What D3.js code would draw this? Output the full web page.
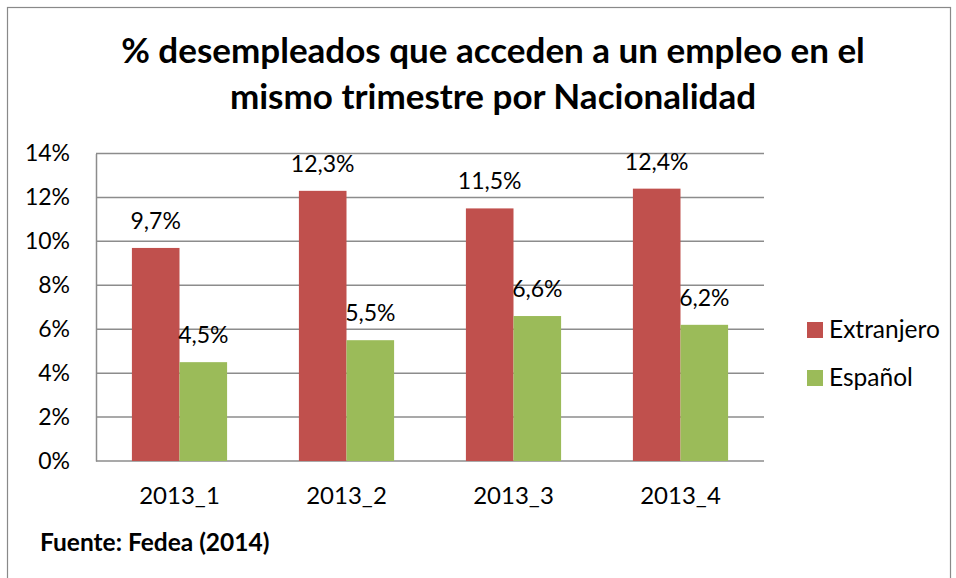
<!DOCTYPE html>
<html>
<head>
<meta charset="utf-8">
<script src="https://cdn.jsdelivr.net/npm/d3@7"></script>
<style>
  body { margin: 0; background: #fff; }
  svg { display: block; font-family: Lato, "Open Sans", sans-serif; }
</style>
</head>
<body>
<div id="mainDiv"></div>
<script>
'use strict';

var categories = ['2013_1', '2013_2', '2013_3', '2013_4'];
var seriesNames = ['Extranjero', 'Español'];
var extranjero = [9.7, 12.3, 11.5, 12.4];
var espanol = [4.5, 5.5, 6.6, 6.2];
var yTicks = [0, 2, 4, 6, 8, 10, 12, 14];
var titleLines = ['% desempleados que acceden a un empleo en el', 'mismo trimestre por Nacionalidad'];
var fuente = 'Fuente: Fedea (2014)';

var colors = ['#c0504d', '#9bbb59'];

var W = 956, H = 578;
var plot = { left: 96, top: 153.5, right: 764, bottom: 461 };

var svg = d3.select('#mainDiv').append('svg')
    .attr('width', W)
    .attr('height', H);

// chart border
svg.append('rect')
    .attr('x', 7.5).attr('y', 7.5)
    .attr('width', 943).attr('height', 600)
    .attr('fill', 'none')
    .attr('stroke', '#898989')
    .attr('stroke-width', 1.2);

// title
svg.append('g').selectAll('text')
    .data(titleLines)
    .enter().append('text')
        .attr('x', 493)
        .attr('y', function(d, i) { return 63 + i * 46; })
        .attr('text-anchor', 'middle')
        .attr('font-size', '35px')
        .attr('font-weight', 'bold')
        .attr('fill', '#000')
        .text(function(d) { return d; });

var xScale = d3.scaleBand()
    .domain(categories)
    .range([plot.left, plot.right]);

var yScale = d3.scaleLinear()
    .domain([0, 14])
    .range([plot.bottom, plot.top]);

var barW = xScale.bandwidth() * 0.285;

// gridlines
svg.append('g').selectAll('line')
    .data(yTicks)
    .enter().append('line')
        .attr('x1', plot.left)
        .attr('x2', plot.right)
        .attr('y1', function(d) { return yScale(d); })
        .attr('y2', function(d) { return yScale(d); })
        .attr('stroke', '#8c8c8c')
        .attr('stroke-width', 1.5);

// y axis
var yAxis = d3.axisLeft(yScale)
    .tickValues(yTicks)
    .tickSize(0)
    .tickPadding(26)
    .tickFormat(function(d) { return d + '%'; });

var yAxisGroup = svg.append('g')
    .attr('transform', 'translate(' + plot.left + ',0)')
    .call(yAxis);
yAxisGroup.select('.domain').attr('stroke', '#8c8c8c').attr('stroke-width', 1.5);
yAxisGroup.selectAll('text')
    .attr('font-size', '23px')
    .attr('fill', '#000')
    .attr('font-family', 'Lato, sans-serif');

// x axis labels
var xAxis = d3.axisBottom(xScale).tickSize(0).tickPadding(26);
var xAxisGroup = svg.append('g')
    .attr('transform', 'translate(0,' + plot.bottom + ')')
    .call(xAxis);
xAxisGroup.select('.domain').remove();
xAxisGroup.selectAll('text')
    .attr('font-size', '24px')
    .attr('fill', '#000')
    .attr('font-family', 'Lato, sans-serif');

// bars
var series = [extranjero, espanol];
series.forEach(function(vals, s) {
    var g = svg.append('g');
    var offset = s === 0 ? -barW : 0;
    g.selectAll('rect')
        .data(vals)
        .enter().append('rect')
            .attr('x', function(d, i) { return xScale(categories[i]) + xScale.bandwidth() / 2 + offset; })
            .attr('y', function(d) { return yScale(d); })
            .attr('width', barW)
            .attr('height', function(d) { return plot.bottom - yScale(d); })
            .attr('fill', colors[s]);

    g.selectAll('text')
        .data(vals)
        .enter().append('text')
            .attr('x', function(d, i) { return xScale(categories[i]) + xScale.bandwidth() / 2 + offset + barW / 2; })
            .attr('y', function(d) { return yScale(d) - 19; })
            .attr('text-anchor', 'middle')
            .attr('font-size', '23px')
            .attr('fill', '#000')
            .text(function(d) { return d.toFixed(1).replace('.', ',') + '%'; });
});

// legend
var legend = svg.append('g').selectAll('g')
    .data(seriesNames)
    .enter().append('g')
        .attr('transform', function(d, i) { return 'translate(807,' + (330 + i * 48) + ')'; });
legend.append('rect')
    .attr('x', 0).attr('y', -8)
    .attr('width', 16).attr('height', 16)
    .attr('fill', function(d, i) { return colors[i]; });
legend.append('text')
    .attr('x', 22)
    .attr('y', 8)
    .attr('font-size', '24.5px')
    .attr('fill', '#000')
    .text(function(d) { return d; });

// source
svg.append('text')
    .attr('x', 40)
    .attr('y', 551)
    .attr('font-size', '24.5px')
    .attr('font-weight', 'bold')
    .attr('fill', '#000')
    .text(fuente);
</script>
</body>
</html>
